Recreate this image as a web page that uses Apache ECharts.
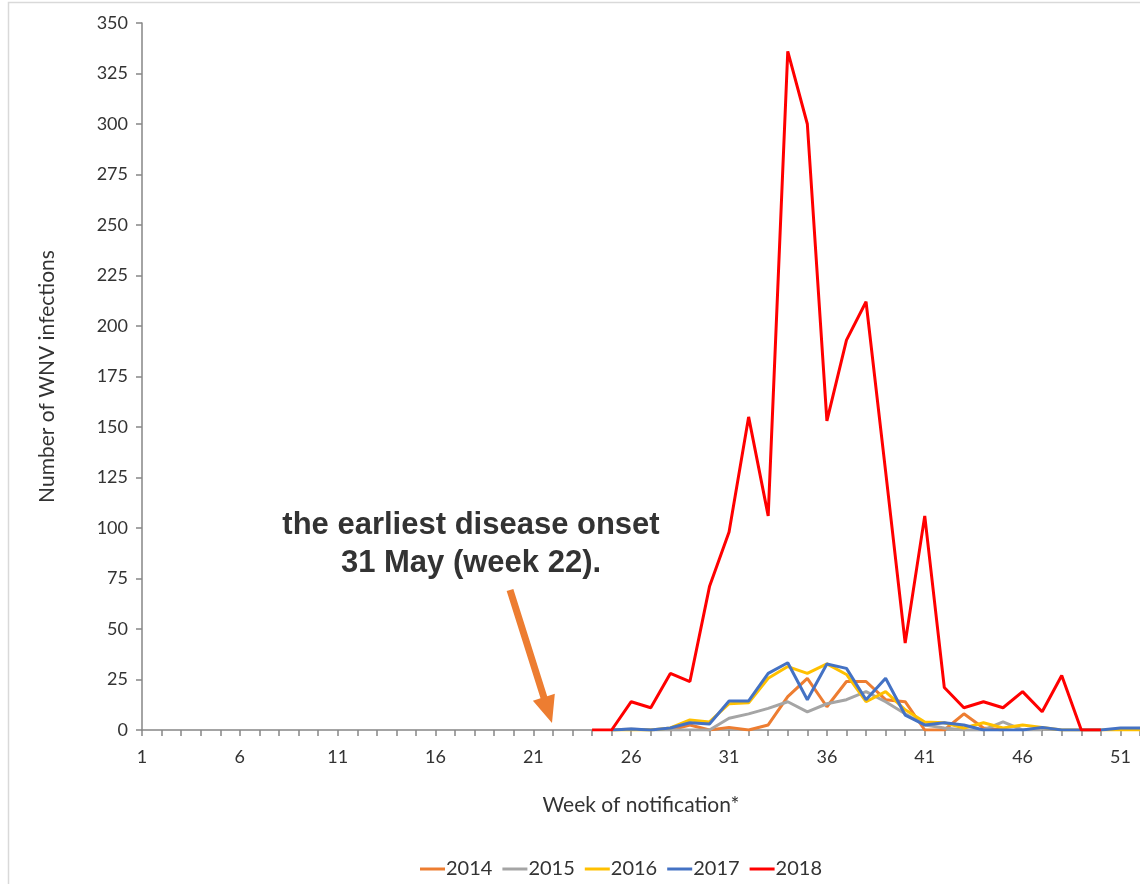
<!DOCTYPE html>
<html>
<head>
<meta charset="utf-8">
<script src="https://cdn.jsdelivr.net/npm/echarts@6/dist/echarts.min.js"></script>
<style>
html,body{margin:0;padding:0;background:#fff;}
#chart{width:1140px;height:884px;}
</style>
</head>
<body>
<div id="chart"></div>
<script>
// Weeks of notification 1..52
var weeks = [];
for (var w = 1; w <= 52; w++) weeks.push(String(w));

var N = null;
// values per week (index 0 = week 1)
var s2014 = [N,N,N,N,N,N,N,N,N,N,N,N,N,N,N,N,N,N,N,N,N,N,N,N,N,N,N,
  0,2.5,0,1.3,0,2.5,16.5,25.6,11.5,24,24,15,14,0,0,8,1,0,N,N,N,N,N,N,N];
var s2015 = [N,N,N,N,N,N,N,N,N,N,N,N,N,N,N,N,N,N,N,N,N,N,N,N,
  0,0.5,0,0,0,0,5.8,8,10.7,14,9,13,15,19,14,8,2.5,1,0,0,4,0,0,N,N,N,N,N];
var s2016 = [N,N,N,N,N,N,N,N,N,N,N,N,N,N,N,N,N,N,N,N,N,N,N,N,
  0,0,0,1,5,4,13,13.5,25.6,31.4,28,32.7,27.5,14,19,10,4,3.6,1,3.6,1,2.5,1.3,0,0,0,0,0];
var s2017 = [N,N,N,N,N,N,N,N,N,N,N,N,N,N,N,N,N,N,N,N,N,N,N,N,
  0,0.5,0,1,3.6,3,14.4,14.4,28,33.3,15,32.7,30.5,15,25.6,7.4,2.5,3.6,2.5,0,0,0,1.3,0,0,0,1,1];
var s2018 = [N,N,N,N,N,N,N,N,N,N,N,N,N,N,N,N,N,N,N,N,N,N,N,
  0,0,14,11,28,24,71,98,155,106,336,300,153,193,212,128,43,106,21,11,14,11,19,9,27,0,0,N,N];

var seriesNames = ['2014','2015','2016','2017','2018'];
var seriesColors = ['#ED7D31','#A5A5A5','#FFC000','#4472C4','#FF0000'];
var seriesData = [s2014, s2015, s2016, s2017, s2018];

var yTicks = {min: 0, max: 350, interval: 25};

var chart = echarts.init(document.getElementById('chart'));
var FONT = 'Lato';

var series = seriesNames.map(function (n, i) {
  return {
    name: n, type: 'line', data: seriesData[i],
    showSymbol: false, symbol: 'none', connectNulls: false,
    lineStyle: {color: seriesColors[i], width: 3},
    itemStyle: {color: seriesColors[i]},
    emphasis: {disabled: true},
    animation: false
  };
});

// arrow polygon geometry (annotation)
function arrowPoints(x1, y1, x2, y2, shaft, head, headLen) {
  var dx = x2 - x1, dy = y2 - y1, L = Math.sqrt(dx*dx + dy*dy);
  var ux = dx / L, uy = dy / L, nx = -uy, ny = ux;
  var bx = x2 - ux * headLen, by = y2 - uy * headLen;
  return [
    [x1 + nx*shaft/2, y1 + ny*shaft/2],
    [bx + nx*shaft/2, by + ny*shaft/2],
    [bx + nx*head/2, by + ny*head/2],
    [x2, y2],
    [bx - nx*head/2, by - ny*head/2],
    [bx - nx*shaft/2, by - ny*shaft/2],
    [x1 - nx*shaft/2, y1 - ny*shaft/2]
  ];
}

chart.setOption({
  animation: false,
  backgroundColor: '#fff',
  grid: {left: 142, right: 0, top: 23, bottom: 154, containLabel: false},
  legend: {
    data: seriesNames,
    bottom: 0, left: 415,
    icon: 'rect', itemWidth: 25, itemHeight: 3, itemGap: 10,
    textStyle: {fontFamily: FONT, fontSize: 20, color: '#333333', padding: [0,0,0,-4]}
  },
  xAxis: {
    type: 'category', data: weeks, boundaryGap: false,
    name: 'Week of notification*', nameLocation: 'middle', nameGap: 65,
    nameTextStyle: {fontFamily: FONT, fontSize: 21, color: '#333333'},
    axisLine: {lineStyle: {color: '#868686', width: 1.5}},
    axisTick: {show: true, interval: 0, length: 6, lineStyle: {color: '#868686', width: 1.5}},
    axisLabel: {interval: 4, fontFamily: FONT, fontSize: 18, color: '#333333', margin: 18},
    splitLine: {show: false}
  },
  yAxis: {
    type: 'value', min: yTicks.min, max: yTicks.max, interval: yTicks.interval,
    name: 'Number of WNV infections', nameLocation: 'middle', nameGap: 84,
    nameTextStyle: {fontFamily: FONT, fontSize: 21, color: '#333333'},
    axisLine: {show: true, lineStyle: {color: '#868686', width: 1.5}},
    axisTick: {show: true, length: 6, lineStyle: {color: '#868686', width: 1.5}},
    axisLabel: {fontFamily: FONT, fontSize: 18, color: '#333333', margin: 14},
    splitLine: {show: false}
  },
  graphic: [
    {type: 'rect', shape: {x: 8.5, y: 2.5, width: 1200, height: 1000},
     style: {fill: 'none', stroke: '#d9d9d9', lineWidth: 1.5}, silent: true, z: -10},
    {type: 'text', x: 471, y: 506, z: 100,
     style: {text: 'the earliest disease onset\n31 May (week 22).', align: 'center', textAlign: 'center',
       verticalAlign: 'top',
       font: 'bold 31px "Liberation Sans", Arial, sans-serif', fill: '#333333', lineHeight: 38}},
    {type: 'polygon', z: 100,
     shape: {points: arrowPoints(510, 590, 552, 723, 7, 23, 27)},
     style: {fill: '#ED7D31'}}
  ],
  series: series
});
</script>
</body>
</html>
